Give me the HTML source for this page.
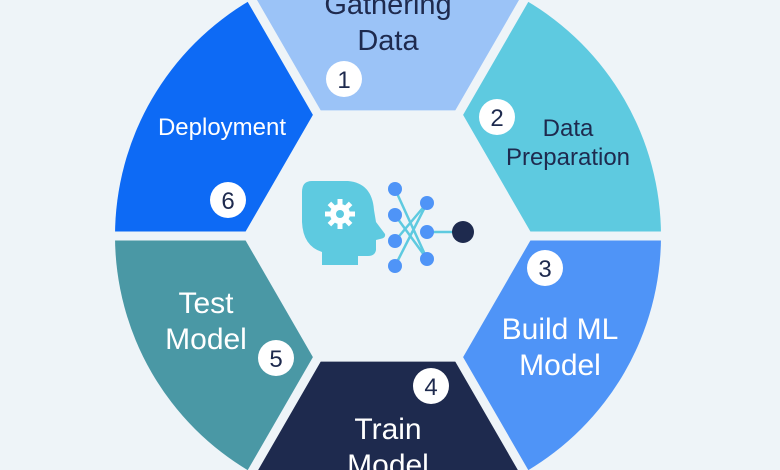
<!DOCTYPE html>
<html><head><meta charset="utf-8"><style>
html,body{margin:0;padding:0;background:#eef4f8;width:780px;height:470px;overflow:hidden;}
svg{display:block}
text{font-family:"Liberation Sans",sans-serif;}
</style></head><body>
<svg width="780" height="470" viewBox="0 0 780 470" xmlns="http://www.w3.org/2000/svg">
<rect width="780" height="470" fill="#eef4f8"/>
<g>
<path d="M388,236 L524.5,-0.4 A273,273 0 0 0 251.5,-0.4 Z" fill="#9bc3f7"/>
<path d="M388,236 L661,236 A273,273 0 0 0 524.5,-0.4 Z" fill="#5ecae0"/>
<path d="M388,236 L524.5,472.4 A273,273 0 0 0 661,236 Z" fill="#4f94f7"/>
<path d="M388,236 L251.5,472.4 A273,273 0 0 0 524.5,472.4 Z" fill="#1e2a4e"/>
<path d="M388,236 L115,236 A273,273 0 0 0 251.5,472.4 Z" fill="#4a98a5"/>
<path d="M388,236 L251.5,-0.4 A273,273 0 0 0 115,236 Z" fill="#0d6af5"/>
<g stroke="#eef4f8" stroke-width="9">
<line x1="100" y1="236" x2="680" y2="236"/>
<line x1="242" y1="-17" x2="534" y2="489"/>
<line x1="534" y1="-17" x2="242" y2="489"/>
</g>
<polygon points="533,236 460.5,110.4 315.5,110.4 243,236 315.5,361.6 460.5,361.6" fill="#eef4f8"/>
</g>
<g font-size="29" fill="#1e2a4e" text-anchor="middle">
<text x="388" y="14">Gathering</text>
<text x="388" y="50">Data</text>
</g>
<g font-size="24" fill="#1e2a4e" text-anchor="middle">
<text x="568" y="136">Data</text>
<text x="568" y="165">Preparation</text>
</g>
<text x="222" y="135" font-size="24" fill="#fff" text-anchor="middle">Deployment</text>
<g font-size="30" fill="#fff" text-anchor="middle">
<text x="560" y="339">Build ML</text>
<text x="560" y="375">Model</text>
<text x="388" y="439">Train</text>
<text x="388" y="475">Model</text>
<text x="206" y="313">Test</text>
<text x="206" y="349">Model</text>
</g>
<g font-size="24" fill="#1e2a4e" text-anchor="middle">
<circle cx="344" cy="79" r="18" fill="#fff"/><text x="344" y="88">1</text>
<circle cx="497" cy="117" r="18" fill="#fff"/><text x="497" y="126">2</text>
<circle cx="545" cy="268" r="18" fill="#fff"/><text x="545" y="277">3</text>
<circle cx="431" cy="386" r="18" fill="#fff"/><text x="431" y="395">4</text>
<circle cx="276" cy="358" r="18" fill="#fff"/><text x="276" y="367">5</text>
<circle cx="228" cy="200" r="18" fill="#fff"/><text x="228" y="209">6</text>
</g>
<path d="M312,181 L348,181 Q372,183 374,210 L376,222 L385,234 Q386,238 380,239 L376,240 L376,250 Q375,256 368,256 L358,256 L358,265 L322,265 L322,252 Q303,246 302,222 L302,192 Q302,181 312,181 Z" fill="#5ecae0"/>
<g fill="#fff">
<circle cx="340" cy="214" r="10"/>
<g stroke="#fff" stroke-width="5">
<line x1="340" y1="199" x2="340" y2="229"/>
<line x1="325" y1="214" x2="355" y2="214"/>
<line x1="329.4" y1="203.4" x2="350.6" y2="224.6"/>
<line x1="350.6" y1="203.4" x2="329.4" y2="224.6"/>
</g>
<circle cx="340" cy="214" r="4" fill="#5ecae0"/>
</g>
<g stroke="#5ecae0" stroke-width="2.5">
<line x1="395" y1="189" x2="427" y2="259"/>
<line x1="395" y1="215" x2="427" y2="259"/>
<line x1="395" y1="241" x2="427" y2="203"/>
<line x1="395" y1="266" x2="427" y2="203"/>
<line x1="427" y1="232" x2="463" y2="232"/>
</g>
<g fill="#4f94f7">
<circle cx="395" cy="189" r="7"/><circle cx="395" cy="215" r="7"/>
<circle cx="395" cy="241" r="7"/><circle cx="395" cy="266" r="7"/>
<circle cx="427" cy="203" r="7"/><circle cx="427" cy="232" r="7"/><circle cx="427" cy="259" r="7"/>
</g>
<circle cx="463" cy="232" r="11" fill="#1e2a4e"/>
</svg>
</body></html>
